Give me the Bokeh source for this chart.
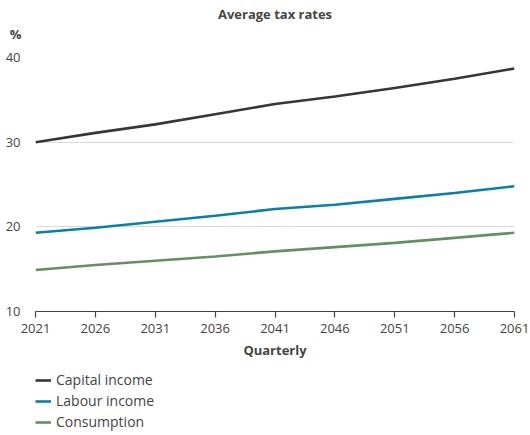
from bokeh.plotting import figure
from bokeh.models import Range1d, Legend, LegendItem, FixedTicker, Label, LinearAxis
from bokeh.layouts import column
from bokeh.embed import file_html
from bokeh.resources import INLINE

years = [2021, 2026, 2031, 2036, 2041, 2046, 2051, 2056, 2061]
capital_income = [30.0, 31.1, 32.1, 33.3, 34.5, 35.4, 36.4, 37.5, 38.7]
labour_income = [19.3, 19.9, 20.6, 21.3, 22.1, 22.6, 23.3, 24.0, 24.8]
consumption = [14.9, 15.5, 16.0, 16.5, 17.1, 17.6, 18.1, 18.7, 19.3]
y_ticks = [10, 20, 30, 40]
series_names = ["Capital income", "Labour income", "Consumption"]
series_colors = ["#363636", "#0b7fa9", "#62915f"]

FONT = "Open Sans"
TXT = "#444444"


def blank(height, **kw):
    f = figure(width=530, height=height, output_backend="svg", toolbar_location=None,
               x_range=Range1d(0, 1), y_range=Range1d(height, 0),
               min_border=0, min_border_left=35, min_border_right=16,
               outline_line_color=None, x_axis_type=None, y_axis_type=None,
               border_fill_color="white", **kw)
    f.grid.visible = False
    return f


# ---- header: title ----
head = blank(24)
head.add_layout(Label(x=0.5, y=13, text="Average tax rates", text_align="center",
                      text_baseline="middle", text_font=FONT, text_font_size="13px",
                      text_font_style="bold", text_color=TXT))

# ---- header: unit ----
unit = blank(18)
ua = LinearAxis(ticker=FixedTicker(ticks=[]), axis_line_color=None,
                major_tick_line_color=None, minor_tick_line_color=None,
                axis_label="%", axis_label_orientation="horizontal",
                axis_label_text_font=FONT, axis_label_text_font_size="13px",
                axis_label_text_font_style="bold", axis_label_text_color=TXT,
                axis_label_standoff=14)
unit.add_layout(ua, "left")

# ---- main chart ----
p = figure(width=530, height=328, output_backend="svg", toolbar_location=None,
           x_range=Range1d(2021, 2061), y_range=Range1d(10, 40),
           min_border_left=35, min_border_right=16, min_border_top=15,
           min_border_bottom=59, background_fill_color="white",
           border_fill_color="white", outline_line_color=None)

for vals, col in zip([capital_income, labour_income, consumption], series_colors):
    p.line(years, vals, line_color=col, line_width=2.6)

xa = p.xaxis[0]
xa.ticker = FixedTicker(ticks=years)
xa.major_tick_out = 6
xa.major_tick_in = 0
xa.minor_tick_line_color = None
xa.axis_line_color = "#444444"
xa.major_tick_line_color = "#444444"
xa.axis_line_width = 1.2
xa.major_tick_line_width = 1.2
xa.major_label_text_font = FONT
xa.major_label_text_font_size = "13px"
xa.major_label_text_color = TXT
xa.major_label_standoff = 6
xa.axis_label = "Quarterly"
xa.axis_label_text_font = FONT
xa.axis_label_text_font_size = "13px"
xa.axis_label_text_font_style = "bold"
xa.axis_label_text_color = TXT
xa.axis_label_standoff = 5

ya = p.yaxis[0]
ya.ticker = FixedTicker(ticks=y_ticks)
ya.axis_line_color = None
ya.major_tick_line_color = None
ya.minor_tick_line_color = None
ya.major_label_text_font = FONT
ya.major_label_text_font_size = "13px"
ya.major_label_text_color = TXT
ya.major_label_standoff = 9

p.xgrid.grid_line_color = None
p.ygrid.grid_line_color = "#d9d9d9"
p.ygrid.ticker = FixedTicker(ticks=[20, 30, 40])

# ---- legend panel ----
leg = figure(width=530, height=65, output_backend="svg", toolbar_location=None,
             x_range=Range1d(0, 1), y_range=Range1d(0, 1),
             min_border_left=35, min_border_right=16, min_border_top=0,
             min_border_bottom=0, outline_line_color=None, x_axis_type=None,
             y_axis_type=None, border_fill_color="white")
leg.grid.visible = False
leg_r = []
for vals, col in zip([capital_income, labour_income, consumption], series_colors):
    leg_r.append(leg.line(years, vals, line_color=col, line_width=2.6))

legend = Legend(items=[LegendItem(label=n, renderers=[r]) for n, r in zip(series_names, leg_r)],
                location="top_left", orientation="vertical",
                label_text_font=FONT, label_text_font_size="14px",
                label_text_color=TXT, glyph_width=16, glyph_height=18,
                label_standoff=5, spacing=2, padding=1, margin=0,
                border_line_color=None, background_fill_alpha=0)
leg.add_layout(legend, "center")

layout = column(head, unit, p, leg, spacing=0)
open("out.html", "w").write(file_html(layout, INLINE))
